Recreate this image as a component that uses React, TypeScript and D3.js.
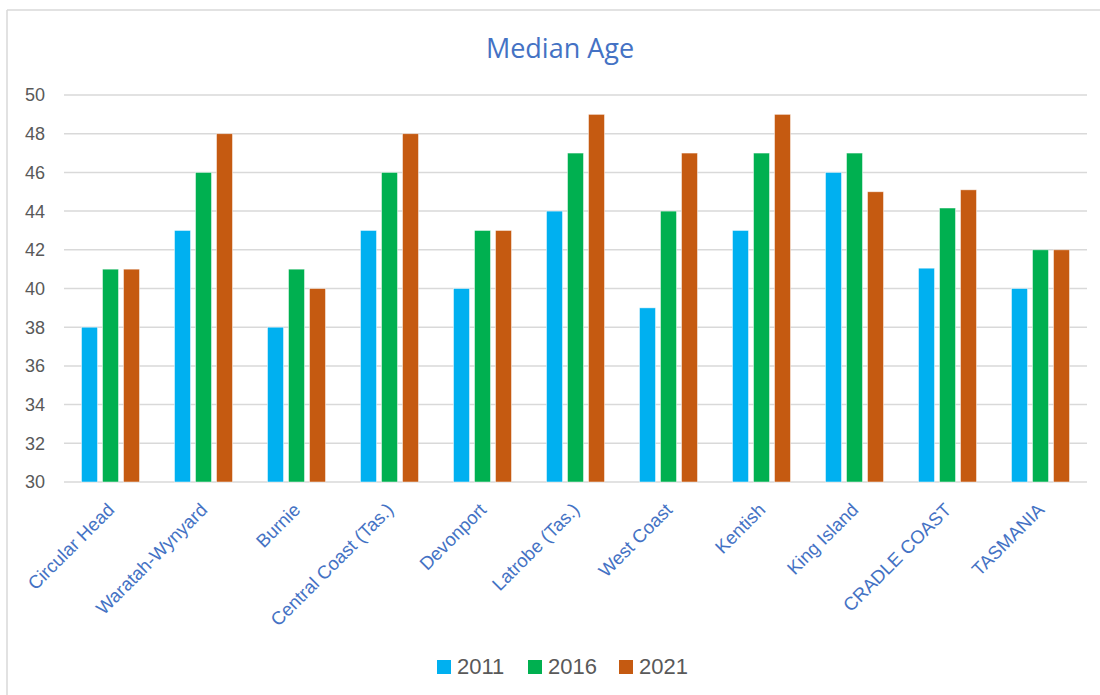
import React from "react";
import * as d3 from "d3";

const categories = [
  "Circular Head",
  "Waratah-Wynyard",
  "Burnie",
  "Central Coast (Tas.)",
  "Devonport",
  "Latrobe (Tas.)",
  "West Coast",
  "Kentish",
  "King Island",
  "CRADLE COAST",
  "TASMANIA",
];

const years = ["2011", "2016", "2021"];

const age2011 = [38, 43, 38, 43, 40, 44, 39, 43, 46, 41.05, 40];
const age2016 = [41, 46, 41, 46, 43, 47, 44, 47, 47, 44.16, 42];
const age2021 = [41, 48, 40, 48, 43, 49, 47, 49, 45, 45.1, 42];

const yTicks = [30, 32, 34, 36, 38, 40, 42, 44, 46, 48, 50];

const seriesColors = ["#00B0F0", "#00B050", "#C55A11"];

const W = 1100;
const H = 695;
const FONT = "'Liberation Sans', Arial, sans-serif";

export default function App() {
  const series = [age2011, age2016, age2021];

  const x = d3.scaleBand<string>().domain(categories).range([64, 1087]).padding(0);
  const inner = d3
    .scaleBand<string>()
    .domain(years)
    .range([0, 58])
    .paddingInner(5 / 21);
  const y = d3.scaleLinear().domain([30, 50]).range([482, 95]);

  const groupOffset = (x.bandwidth() - 58) / 2;

  return (
    <svg
      width={W}
      height={H}
      style={{ position: "absolute", left: 0, top: 0, display: "block", background: "#fff" }}
      fontFamily={FONT}
    >
      <rect x={0} y={0} width={W} height={H} fill="#fff" />
      {/* chart frame */}
      <line x1={7} y1={10} x2={W} y2={10} stroke="#D9D9D9" strokeWidth={1.5} />
      <line x1={7} y1={10} x2={7} y2={H} stroke="#D9D9D9" strokeWidth={1.5} />

      <text
        x={560}
        y={58}
        textAnchor="middle"
        fill="#4472C4"
        fontSize={27}
        fontFamily="'Open Sans', sans-serif"
      >
        Median Age
      </text>

      {/* gridlines and y ticks */}
      {yTicks.map((t) => (
        <g key={t}>
          <line
            x1={64}
            x2={1087}
            y1={y(t)}
            y2={y(t)}
            stroke="#D9D9D9"
            strokeWidth={1.5}
          />
          <text
            x={45}
            y={y(t)}
            dy="0.36em"
            textAnchor="end"
            fill="#595959"
            fontSize={18}
          >
            {t}
          </text>
        </g>
      ))}

      {/* bars */}
      {categories.map((c, i) => (
        <g key={c} transform={`translate(${(x(c) as number) + groupOffset},0)`}>
          {years.map((yr, s) => {
            const v = series[s][i];
            return (
              <rect
                key={yr}
                x={inner(yr) as number}
                y={y(v)}
                width={inner.bandwidth()}
                height={y(30) - y(v)}
                fill={seriesColors[s]}
                stroke="#ffffff"
                strokeOpacity={0.6}
                strokeWidth={0.8}
              />
            );
          })}
        </g>
      ))}

      {/* category labels */}
      {categories.map((c) => {
        const cx = (x(c) as number) + x.bandwidth() / 2;
        return (
          <text
            key={c}
            transform={`translate(${cx + 5},${511}) rotate(-45)`}
            textAnchor="end"
            fill="#4472C4"
            fontSize={18.5}
          >
            {c}
          </text>
        );
      })}

      {/* legend */}
      {years.map((yr, s) => {
        const lx = 437 + s * 91;
        return (
          <g key={yr} transform={`translate(${lx},0)`}>
            <rect x={0} y={660} width={14} height={14} fill={seriesColors[s]} />
            <text x={20} y={674} fill="#595959" fontSize={22}>
              {yr}
            </text>
          </g>
        );
      })}
    </svg>
  );
}
